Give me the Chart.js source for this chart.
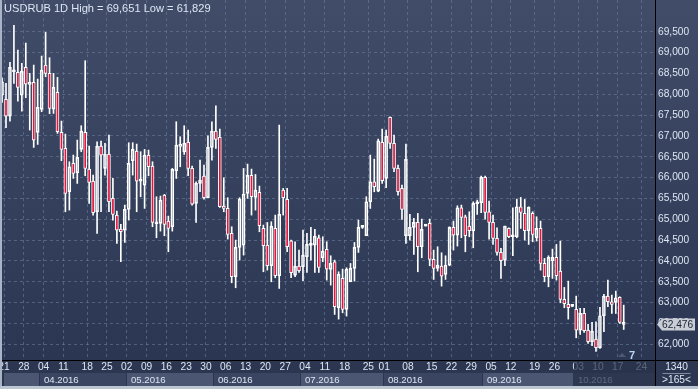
<!DOCTYPE html>
<html>
<head>
<meta charset="utf-8">
<script src="https://cdn.jsdelivr.net/npm/chart.js@4.4.1/dist/chart.umd.min.js"></script>
<style>
  html, body { margin: 0; padding: 0; background: #2c3650; }
  #chart { display: block; }
</style>
</head>
<body>
<canvas id="chart" width="698" height="389"></canvas>
<script>
// USDRUB, daily candles from 21.03.2016 to 19.10.2016 (index = trading day)
const opens = [
  67.980, 67.876, 67.476, 68.540, 68.524, 67.980, 68.644, 68.236, 68.284, 67.084,
  67.636, 68.700, 68.500, 67.644, 68.044, 67.084, 66.700, 65.660, 66.340, 66.116,
  66.676, 67.084, 66.204, 65.916, 65.180, 66.756, 66.220, 66.564, 65.500, 65.100,
  64.764, 64.740, 65.236, 66.404, 66.636, 65.916, 65.820, 66.540, 66.276, 64.908,
  64.900, 65.580, 64.956, 64.820, 66.164, 66.748, 66.620, 66.852, 66.220, 65.380,
  65.860, 66.036, 65.516, 66.724, 67.116, 66.964, 65.316, 65.260, 64.660, 63.620,
  64.324, 64.380, 65.620, 66.052, 65.524, 65.644, 64.780, 64.380, 63.884, 64.780,
  63.644, 65.700, 65.476, 64.484, 63.660, 63.876, 63.860, 64.100, 64.372, 64.380,
  64.556, 64.076, 64.276, 63.796, 63.980, 62.876, 63.580, 62.836, 63.500, 63.820,
  64.324, 64.804, 64.604, 65.420, 65.900, 65.676, 66.844, 65.980, 67.444, 66.820,
  66.220, 65.740, 64.604, 64.604, 64.804, 64.924, 64.340, 64.836, 64.900, 64.036,
  63.820, 63.876, 63.676, 63.900, 64.804, 64.620, 65.276, 65.060, 64.836, 64.724,
  65.372, 65.396, 66.004, 65.180, 64.924, 64.540, 64.204, 64.020, 64.780, 64.580,
  64.580, 65.300, 65.140, 64.724, 65.140, 64.556, 64.780, 63.940, 63.620, 64.004,
  64.084, 63.756, 63.076, 62.956, 62.908, 62.836, 62.340, 62.740, 62.340, 62.060,
  62.124, 61.916, 62.684, 63.156, 63.020, 63.004, 63.124, 62.484
];
const highs = [
  68.396, 68.260, 68.764, 69.651, 69.060, 68.740, 69.228, 68.500, 68.700, 68.364,
  68.916, 69.484, 68.876, 68.500, 68.404, 67.356, 67.044, 66.380, 66.540, 66.900,
  67.244, 68.804, 66.756, 66.060, 66.860, 66.876, 66.820, 67.020, 65.980, 65.196,
  64.876, 65.340, 66.836, 66.836, 66.804, 66.620, 66.676, 66.660, 66.380, 65.540,
  65.556, 65.596, 65.076, 66.220, 67.340, 66.980, 67.244, 67.140, 66.276, 65.900,
  66.420, 66.300, 67.004, 67.340, 67.724, 67.164, 65.996, 65.516, 64.820, 64.500,
  65.516, 66.220, 66.324, 66.204, 66.076, 65.796, 64.860, 64.924, 64.940, 65.100,
  67.260, 65.740, 65.740, 64.500, 64.460, 64.260, 64.740, 64.660, 64.804, 64.756,
  64.620, 64.580, 64.460, 64.124, 64.020, 63.740, 63.804, 63.836, 63.940, 64.444,
  64.980, 64.844, 65.540, 66.540, 66.444, 66.924, 67.164, 67.140, 67.460, 67.020,
  66.300, 65.820, 66.804, 65.116, 65.020, 65.140, 65.004, 64.852, 65.004, 64.260,
  64.340, 64.196, 64.124, 64.820, 64.956, 65.324, 65.340, 65.100, 65.180, 65.420,
  65.460, 66.036, 66.036, 65.436, 65.100, 64.796, 64.300, 64.836, 64.796, 65.276,
  65.484, 65.524, 65.476, 65.300, 65.180, 65.060, 64.956, 64.060, 64.124, 64.284,
  64.396, 64.476, 63.364, 63.516, 62.932, 63.156, 62.860, 62.860, 62.476, 62.524,
  62.540, 62.884, 63.196, 63.540, 63.180, 63.276, 63.140, 62.940
];
const lows = [
  67.804, 67.196, 67.356, 68.260, 67.836, 67.596, 67.916, 67.140, 66.724, 66.796,
  67.580, 68.420, 67.532, 67.540, 67.060, 66.404, 65.180, 65.220, 65.980, 65.860,
  66.620, 66.044, 65.380, 65.100, 64.660, 65.180, 66.060, 65.180, 64.980, 64.420,
  63.980, 64.444, 64.980, 66.060, 65.180, 65.540, 65.260, 66.044, 64.820, 64.556,
  64.716, 64.604, 64.220, 64.716, 65.980, 66.260, 66.556, 66.044, 65.340, 64.924,
  65.660, 65.484, 65.516, 66.420, 66.700, 65.284, 65.180, 64.524, 63.476, 63.356,
  64.020, 64.140, 65.500, 65.100, 65.220, 64.700, 63.740, 63.780, 63.500, 63.596,
  63.340, 65.100, 64.220, 63.596, 63.620, 63.724, 63.524, 63.724, 64.020, 63.724,
  63.724, 63.980, 63.540, 63.420, 62.716, 62.604, 62.756, 62.676, 63.500, 63.516,
  64.204, 64.780, 64.604, 65.260, 65.660, 65.660, 65.860, 65.756, 66.700, 66.140,
  65.580, 64.996, 64.420, 64.500, 64.156, 63.740, 64.076, 64.836, 63.884, 63.556,
  63.756, 63.396, 63.556, 63.884, 64.260, 64.356, 64.556, 64.220, 64.580, 64.316,
  65.116, 65.156, 65.004, 64.524, 64.396, 64.140, 63.580, 63.884, 64.556, 64.124,
  64.556, 64.780, 64.500, 64.396, 64.460, 64.476, 63.780, 63.500, 63.380, 63.580,
  63.540, 62.996, 62.876, 62.604, 62.900, 62.156, 62.236, 62.284, 62.020, 61.964,
  61.829, 61.900, 62.300, 62.900, 62.740, 62.740, 62.500, 62.356
];
const closes = [
  68.300, 67.476, 68.644, 68.572, 68.164, 68.556, 68.244, 68.284, 66.900, 67.684,
  68.580, 68.500, 67.660, 68.164, 67.100, 66.676, 65.620, 66.260, 66.100, 66.484,
  67.116, 66.220, 65.884, 65.156, 66.756, 66.540, 66.564, 65.420, 65.116, 64.740,
  64.700, 65.236, 66.340, 66.676, 65.916, 65.940, 66.540, 66.260, 64.924, 64.892,
  65.460, 64.876, 64.780, 66.196, 66.780, 66.796, 66.828, 66.220, 65.364, 65.860,
  65.940, 65.516, 66.724, 67.116, 66.916, 65.300, 65.260, 64.636, 63.620, 64.324,
  65.484, 65.604, 66.052, 65.540, 65.700, 64.844, 64.364, 63.884, 64.836, 63.644,
  65.116, 65.516, 64.340, 63.716, 63.876, 63.764, 64.140, 64.396, 64.388, 64.596,
  63.844, 64.236, 63.804, 63.940, 62.900, 63.676, 62.836, 63.804, 63.820, 64.324,
  64.804, 64.812, 65.420, 65.900, 65.780, 66.884, 65.924, 66.988, 66.820, 66.220,
  65.660, 65.236, 66.436, 64.804, 64.924, 64.340, 64.756, 64.852, 64.036, 63.820,
  63.900, 63.636, 63.900, 64.804, 64.620, 65.276, 65.044, 64.604, 64.724, 65.380,
  65.388, 66.004, 65.164, 64.924, 64.540, 64.204, 64.004, 64.836, 64.580, 64.620,
  65.300, 65.164, 64.724, 65.284, 64.636, 64.780, 63.940, 63.620, 64.084, 64.084,
  63.644, 63.076, 62.972, 62.876, 62.924, 62.340, 62.740, 62.324, 62.060, 62.316,
  61.916, 62.684, 63.156, 63.020, 62.956, 63.116, 62.524, 62.476
];

// first candle of each week (Monday) and its day number
const weekStarts = [1, 6, 11, 16, 22, 27, 32, 37, 42, 47, 52, 57, 62, 67, 72, 77,
  82, 87, 93, 97, 103, 109, 114, 119, 124, 129, 135, 140, 146, 151, 156, 162];
const weekLabels = ['21', '28', '04', '11', '18', '25', '02', '09', '16', '23', '30',
  '06', '13', '20', '27', '04', '11', '18', '25', '01', '08', '15', '22', '29',
  '05', '12', '19', '26', '03', '10', '17', '24'];

// first candle of each month
const monthStarts = [1, 10, 32, 54, 76, 97, 122, 145];
const monthLabels = ['03.2016', '04.2016', '05.2016', '06.2016', '07.2016', '08.2016', '09.2016', '10.2016'];

const priceTicks = [62.0, 62.5, 63.0, 63.5, 64.0, 64.5, 65.0, 65.5, 66.0, 66.5, 67.0, 67.5, 68.0, 68.5, 69.0, 69.5];

const FAMILY = '"Liberation Sans", Arial, sans-serif';
const SIZE = 10.2;
const FONT = SIZE + 'px ' + FAMILY;
const TEXT = '#dde6f3';
const GRID = 'rgba(112, 130, 162, 0.55)';
const RED = '#e3173e';

const fmt = v => v.toFixed(3).replace('.', ',');

// candle parts as floating bars
const upperWicks = opens.map((o, i) => ({ x: i, y: [Math.max(o, closes[i]), highs[i]] }));
const lowerWicks = opens.map((o, i) => ({ x: i, y: [lows[i], Math.min(o, closes[i])] }));
const bodies = opens.map((o, i) => ({ x: i, y: [o, closes[i]] }));
const bodyColors = opens.map((o, i) => closes[i] < o ? RED : 'rgba(0,0,0,0)');

const title = 'USDRUB 1D High = ' + fmt(Math.max(...highs)) + ' Low = ' + fmt(Math.min(...lows));

const decorations = {
  id: 'decorations',
  beforeDraw(chart) {
    const { ctx, chartArea: a, scales: { x } } = chart;
    const W = chart.width, H = chart.height;
    ctx.save();
    const g = ctx.createLinearGradient(0, 0, 0, a.bottom);
    g.addColorStop(0, '#404c68');
    g.addColorStop(1, '#2b3752');
    ctx.fillStyle = g;
    ctx.fillRect(0, 0, W, a.bottom);
    ctx.fillStyle = '#2c3650';
    ctx.fillRect(0, a.bottom, W, H - a.bottom);

    // month bands under the day labels
    ctx.font = '9.6px ' + FAMILY;
    ctx.textBaseline = 'middle';
    ctx.textAlign = 'left';
    monthStarts.forEach((m, i) => {
      const x0 = Math.round(x.getPixelForValue(m - 0.5));
      const x1 = i + 1 < monthStarts.length ? Math.round(x.getPixelForValue(monthStarts[i + 1] - 0.5)) : a.right;
      ctx.fillStyle = i % 2 === 0 ? '#4a5672' : '#3a4661';
      ctx.fillRect(x0, a.bottom + 13, x1 - x0 - 1, 13);
      const label = monthLabels[i];
      if (ctx.measureText(label).width + 8 < x1 - x0) {
        ctx.fillStyle = TEXT;
        ctx.fillText(label, x0 + 4, a.bottom + 20);
      }
    });
    ctx.restore();
  },
  afterDraw(chart) {
    const { ctx, chartArea: a, scales: { x, y } } = chart;
    const W = chart.width, H = chart.height;
    ctx.save();

    // current month is shaded on the time axis
    const xo = Math.round(x.getPixelForValue(monthStarts[monthStarts.length - 1] - 0.5));
    ctx.fillStyle = 'rgba(40, 50, 74, 0.72)';
    ctx.fillRect(xo, a.bottom + 1, a.right - xo, 25);

    // axis lines through the corner
    ctx.strokeStyle = '#000';
    ctx.lineWidth = 1;
    ctx.beginPath();
    ctx.moveTo(a.right, a.bottom + 0.5);
    ctx.lineTo(W, a.bottom + 0.5);
    ctx.moveTo(Math.round(a.right) + 0.5, a.bottom);
    ctx.lineTo(Math.round(a.right) + 0.5, H);
    ctx.stroke();

    // title
    ctx.font = '11.1px ' + FAMILY;
    ctx.fillStyle = TEXT;
    ctx.textAlign = 'left';
    ctx.textBaseline = 'alphabetic';
    ctx.fillText(title, 4, 12);

    // last price marker
    ctx.font = FONT;
    const last = closes[closes.length - 1];
    const py = y.getPixelForValue(last);
    ctx.fillStyle = '#c9cdd5';
    ctx.beginPath();
    ctx.moveTo(a.right + 2, py);
    ctx.lineTo(a.right + 7, py - 6);
    ctx.lineTo(W - 3, py - 6);
    ctx.lineTo(W - 3, py + 6);
    ctx.lineTo(a.right + 7, py + 6);
    ctx.closePath();
    ctx.fill();
    ctx.fillStyle = '#1b2233';
    ctx.textBaseline = 'middle';
    ctx.fillText(fmt(last), a.right + 7, py + 0.5);

    // bars to the right edge
    ctx.fillStyle = '#4d5973';
    ctx.beginPath();
    ctx.moveTo(618, a.bottom - 3);
    ctx.lineTo(626, a.bottom - 3);
    ctx.lineTo(622, a.bottom - 7);
    ctx.closePath();
    ctx.fill();
    ctx.font = 'bold 11px ' + FAMILY;
    ctx.fillStyle = '#bcd6f6';
    ctx.textBaseline = 'alphabetic';
    ctx.fillText('7', 629, a.bottom - 1.5);

    // corner box
    ctx.font = FONT;
    ctx.fillStyle = TEXT;
    ctx.textAlign = 'center';
    ctx.textBaseline = 'middle';
    const cx = (a.right + W) / 2;
    ctx.fillText('1340', cx, a.bottom + 7);
    ctx.fillText('>165<', cx, a.bottom + 20.5);
    ctx.strokeStyle = '#7d8aa2';
    ctx.beginPath();
    ctx.moveTo(cx - 14, a.bottom + 13.5);
    ctx.lineTo(cx + 14, a.bottom + 13.5);
    ctx.stroke();

    // window frame
    ctx.fillStyle = '#a9b5c7';
    ctx.fillRect(0, 0, 2, H);
    ctx.fillStyle = '#bcc6d3';
    ctx.fillRect(0, H - 3, W, 3);
    ctx.restore();
  }
};

new Chart(document.getElementById('chart'), {
  type: 'bar',
  data: {
    datasets: [
      {
        label: 'upper wick',
        data: upperWicks,
        backgroundColor: '#ffffff',
        borderWidth: 0,
        barThickness: 1,
        grouped: false,
        clip: 0
      },
      {
        label: 'lower wick',
        data: lowerWicks,
        backgroundColor: '#ffffff',
        borderWidth: 0,
        barThickness: 1,
        grouped: false,
        clip: 0
      },
      {
        label: 'body',
        data: bodies,
        backgroundColor: bodyColors,
        borderColor: '#ffffff',
        borderWidth: 1,
        borderSkipped: false,
        barThickness: 3,
        minBarLength: 2,
        grouped: false,
        clip: 0
      }
    ]
  },
  options: {
    responsive: false,
    animation: false,
    events: [],
    layout: { padding: { left: 2, top: 0, right: 0, bottom: 0 } },
    plugins: {
      legend: { display: false },
      tooltip: { enabled: false },
      title: { display: false }
    },
    scales: {
      x: {
        type: 'linear',
        min: -0.01,
        max: 164.9,
        offset: false,
        grid: { offset: false, color: GRID, drawTicks: false },
        border: { color: '#000000', width: 1, dash: [3, 3] },
        afterBuildTicks: scale => {
          scale.ticks = weekStarts.map(k => ({ value: k - 0.5 }));
        },
        afterFit: scale => {
          scale.height = 29;
          scale.paddingLeft = 0;
          scale.paddingRight = 0;
        },
        ticks: {
          color: TEXT,
          font: { family: FAMILY, size: SIZE, lineHeight: 1.1 },
          padding: 2,
          maxRotation: 0,
          minRotation: 0,
          autoSkip: false,
          callback: (value, index) => weekLabels[index]
        }
      },
      y: {
        type: 'linear',
        position: 'right',
        min: 61.623,
        max: 70.261,
        grid: { color: GRID, drawTicks: false },
        border: { color: '#000000', width: 1, dash: [3, 3] },
        afterBuildTicks: scale => {
          scale.ticks = priceTicks.map(v => ({ value: v }));
        },
        afterFit: scale => {
          scale.width = 43;
          scale.paddingTop = 0;
          scale.paddingBottom = 0;
        },
        ticks: {
          color: TEXT,
          font: { family: FAMILY, size: SIZE },
          padding: 3,
          callback: value => fmt(value)
        }
      }
    }
  },
  plugins: [decorations]
});
</script>
</body>
</html>
